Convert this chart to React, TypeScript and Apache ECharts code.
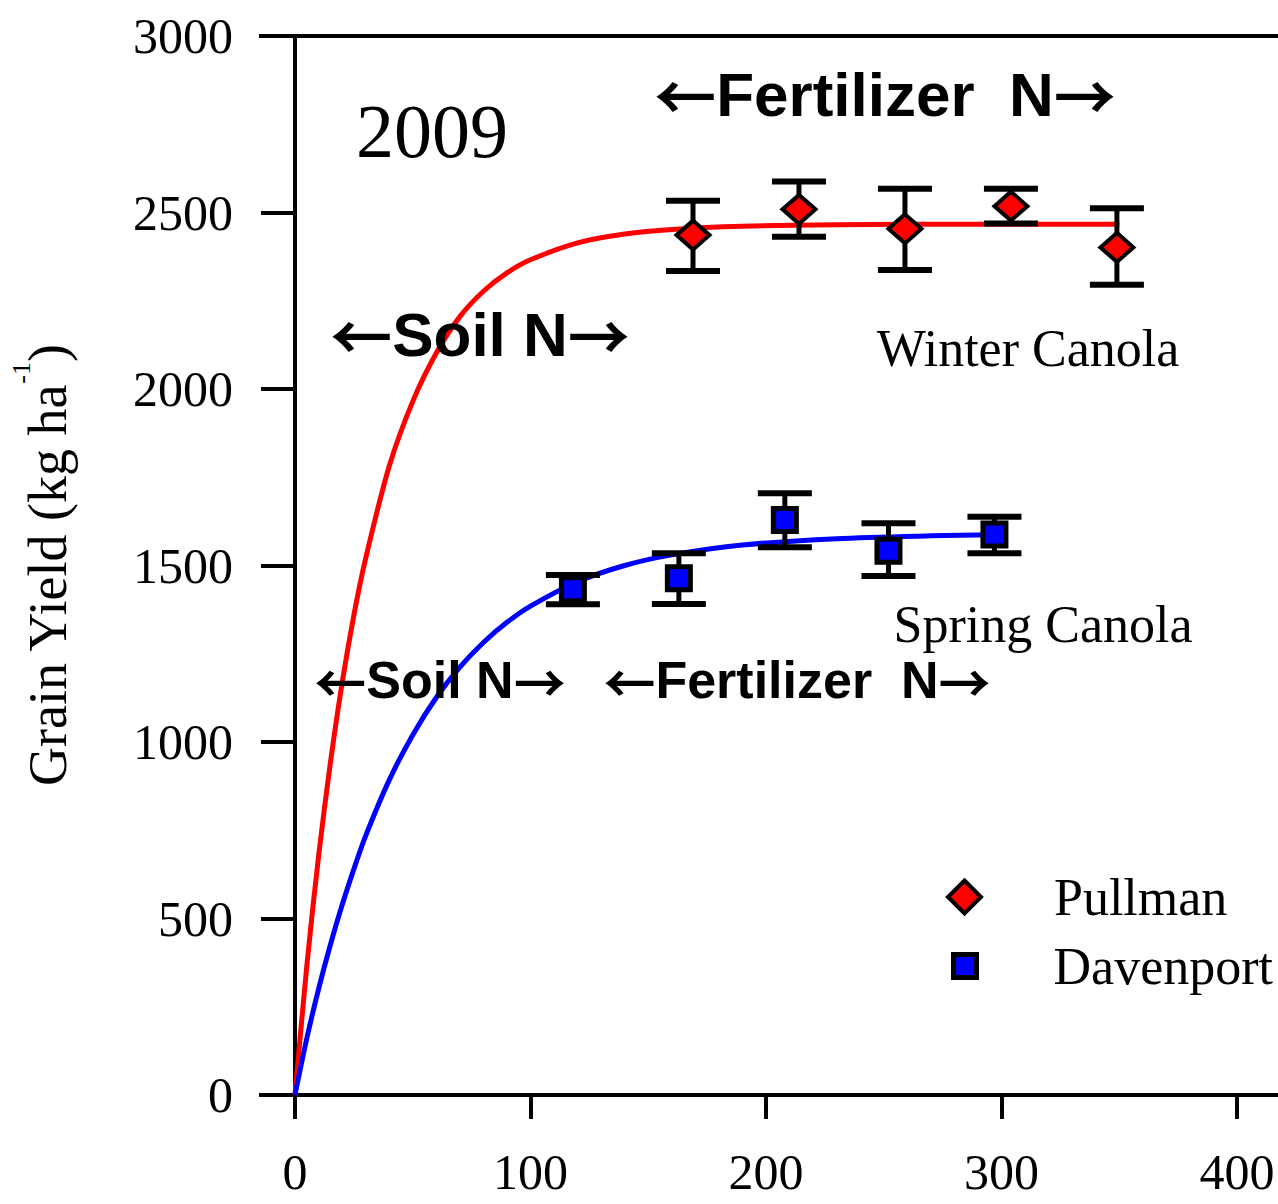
import React, { useEffect, useRef } from "react";
import * as echarts from "echarts";

// ---- data ----
const xTicks = [0, 100, 200, 300, 400];
const yTicks = [0, 500, 1000, 1500, 2000, 2500, 3000];

const pullmanX = [169, 214, 259, 304, 349];
const pullmanY = [2436, 2509, 2454, 2518, 2401];
const pullmanLow = [2334, 2431, 2337, 2469, 2295];
const pullmanHigh = [2533, 2588, 2567, 2567, 2512];

const davenportX = [118, 163, 208, 252, 297];
const davenportY = [1433, 1464, 1629, 1542, 1588];
const davenportLow = [1390, 1391, 1552, 1470, 1535];
const davenportHigh = [1473, 1535, 1705, 1620, 1638];

// fitted response curves
const winterCurveX = [0, 5, 10, 15, 20, 25, 30, 40, 50, 60, 70, 80, 90, 100, 120, 140, 160, 190, 230, 290, 350];
const winterCurveY = [0, 365, 676, 940, 1167, 1359, 1520, 1781, 1965, 2102, 2205, 2277, 2329, 2366, 2414, 2439, 2452, 2461, 2465, 2467, 2467];

const springCurveX = [0, 5, 10, 15, 20, 25, 30, 40, 50, 60, 70, 80, 90, 100, 120, 140, 160, 190, 230, 270, 298];
const springCurveY = [0, 160, 300, 425, 538, 640, 734, 892, 1020, 1126, 1212, 1282, 1339, 1385, 1454, 1500, 1530, 1558, 1576, 1584, 1587];

const seriesNames = ["Pullman", "Davenport"];
const yAxisTitle = "Grain Yield (kg ha{sup|-1})";
const yearLabel = "2009";
const soilLabel = "{a|\u2190}Soil N{a|\u2192}";
const fertLabel = "{a|\u2190}Fertilizer\u00a0 N{a|\u2192}";
const winterLabel = "Winter Canola";
const springLabel = "Spring Canola";

const X_MAX = 417.4;

export default function App() {
  const ref = useRef<HTMLDivElement>(null);

  useEffect(() => {
    if (!ref.current) return;
    const chart = echarts.init(ref.current, null, { renderer: "svg" });
    const serif = "'Liberation Serif', 'Times New Roman', serif";
    const sans = "'Liberation Sans', Arial, sans-serif";
    const arrowFont = "'Noto Sans CJK SC', 'DejaVu Sans', sans-serif";

    const zip2 = (xs: number[], ys: number[]) => xs.map((x, i) => [x, ys[i]]);
    const zip3 = (xs: number[], lo: number[], hi: number[]) => xs.map((x, i) => [x, lo[i], hi[i]]);

    const errorRender = (params: any, api: any) => {
      const x = api.value(0);
      const top = api.coord([x, api.value(2)]);
      const bot = api.coord([x, api.value(1)]);
      const half = 27;
      return {
        type: "group",
        children: [
          { type: "line", shape: { x1: top[0], y1: top[1], x2: bot[0], y2: bot[1] }, style: { stroke: "#000", lineWidth: 5 } },
          { type: "line", shape: { x1: top[0] - half, y1: top[1], x2: top[0] + half, y2: top[1] }, style: { stroke: "#000", lineWidth: 6 } },
          { type: "line", shape: { x1: bot[0] - half, y1: bot[1], x2: bot[0] + half, y2: bot[1] }, style: { stroke: "#000", lineWidth: 6 } },
        ],
      };
    };

    const textEl = (text: string, x: number, y: number, size: number, family: string, weight: string, lh?: number) => ({
      type: "text",
      x,
      y,
      z: 100,
      style: {
        text,
        fontSize: size,
        fontFamily: family,
        fontWeight: weight,
        lineHeight: lh || size,
        fill: "#000",
        align: "center",
        verticalAlign: "middle",
        textAlign: "center",
        textVerticalAlign: "middle",
        rich: {
          a: { fontFamily: arrowFont, fontWeight: "bold", fontSize: size, lineHeight: lh || size, fill: "#000" },
        },
      },
    });

    const option: any = {
      animation: false,
      backgroundColor: "#fff",
      grid: { left: 294, top: 36, right: 0, bottom: 109, containLabel: false },
      xAxis: [
        {
          type: "value",
          min: 0,
          max: X_MAX,
          interval: 100,
          axisLine: { show: true, onZero: false, lineStyle: { color: "#000", width: 4 } },
          axisTick: { show: true, length: 24, lineStyle: { color: "#000", width: 4 }, customValues: xTicks },
          axisLabel: {
            show: true,
            margin: 52,
            fontSize: 50,
            fontFamily: serif,
            color: "#000",
            customValues: xTicks,
            formatter: (v: number) => String(v),
          },
          splitLine: { show: false },
        },
        {
          type: "value",
          position: "top",
          min: 0,
          max: X_MAX,
          axisLine: { show: true, onZero: false, lineStyle: { color: "#000", width: 4 } },
          axisTick: { show: false },
          axisLabel: { show: false },
          splitLine: { show: false },
        },
      ],
      yAxis: {
        type: "value",
        min: 0,
        max: 3000,
        interval: 500,
        axisLine: { show: true, onZero: false, lineStyle: { color: "#000", width: 4 } },
        axisTick: { show: true, length: 34, lineStyle: { color: "#000", width: 4 }, customValues: yTicks },
        axisLabel: {
          margin: 62,
          fontSize: 50,
          fontFamily: serif,
          color: "#000",
          customValues: yTicks,
          formatter: (v: number) => String(v),
        },
        splitLine: { show: false },
        name: yAxisTitle,
        nameLocation: "middle",
        nameRotate: 90,
        nameGap: 207,
        nameTextStyle: {
          fontFamily: serif,
          fontSize: 54,
          color: "#000",
          lineHeight: 80,
          rich: {
            sup: { fontFamily: serif, fontSize: 26, lineHeight: 26, verticalAlign: "top", color: "#000" },
          },
        },
      },
      legend: [
        {
          data: [seriesNames[0]],
          orient: "vertical",
          left: 946,
          top: 871,
          padding: 0,
          itemWidth: 33,
          itemHeight: 33,
          itemStyle: { borderColor: "#000", borderWidth: 4 },
          textStyle: { fontFamily: serif, fontSize: 52, color: "#000", lineHeight: 30, padding: [0, 0, 0, 68] },
        },
        {
          data: [seriesNames[1]],
          orient: "vertical",
          left: 951,
          top: 940,
          padding: 0,
          itemWidth: 23,
          itemHeight: 23,
          itemStyle: { borderColor: "#000", borderWidth: 5 },
          textStyle: { fontFamily: serif, fontSize: 52, color: "#000", lineHeight: 20, padding: [0, 0, 0, 72] },
        },
      ],
      series: [
        {
          name: "Winter fit",
          type: "line",
          data: zip2(winterCurveX, winterCurveY),
          smooth: 0.3,
          showSymbol: false,
          lineStyle: { color: "#ff0000", width: 5 },
          z: 2,
        },
        {
          name: "Spring fit",
          type: "line",
          data: zip2(springCurveX, springCurveY),
          smooth: 0.3,
          showSymbol: false,
          lineStyle: { color: "#0000ff", width: 5 },
          z: 2,
        },
        {
          name: "Pullman err",
          type: "custom",
          renderItem: errorRender,
          data: zip3(pullmanX, pullmanLow, pullmanHigh),
          encode: { x: 0, y: [1, 2] },
          z: 3,
        },
        {
          name: "Davenport err",
          type: "custom",
          renderItem: errorRender,
          data: zip3(davenportX, davenportLow, davenportHigh),
          encode: { x: 0, y: [1, 2] },
          z: 3,
        },
        {
          name: seriesNames[0],
          type: "scatter",
          data: zip2(pullmanX, pullmanY),
          symbol: "diamond",
          symbolSize: [33, 29],
          itemStyle: { color: "#ff0000", borderColor: "#000", borderWidth: 4, opacity: 1 },
          z: 4,
        },
        {
          name: seriesNames[1],
          type: "scatter",
          data: zip2(davenportX, davenportY),
          symbol: "rect",
          symbolSize: 23,
          itemStyle: { color: "#0000ff", borderColor: "#000", borderWidth: 5, opacity: 1 },
          z: 4,
        },
      ],
      graphic: {
        elements: [
          { type: "line", shape: { x1: 259, y1: 1095, x2: 296, y2: 1095 }, style: { stroke: "#000", lineWidth: 4 } },
          { type: "line", shape: { x1: 259, y1: 36, x2: 296, y2: 36 }, style: { stroke: "#000", lineWidth: 4 } },
          textEl(yearLabel, 432, 131, 76, serif, "normal"),
          textEl(fertLabel, 885, 94, 62, sans, "bold"),
          textEl(soilLabel, 480, 334, 62, sans, "bold"),
          textEl(soilLabel, 440, 680, 52, sans, "bold", 46),
          textEl(fertLabel, 797, 680, 52, sans, "bold", 46),
          textEl(winterLabel, 1028, 348, 52, serif, "normal"),
          textEl(springLabel, 1043, 624, 52, serif, "normal", 46),
        ],
      },
    };

    chart.setOption(option);
    return () => chart.dispose();
  }, []);

  return (
    <div
      ref={ref}
      style={{ position: "absolute", left: 0, top: 0, width: 1278, height: 1204, background: "#fff" }}
    />
  );
}
